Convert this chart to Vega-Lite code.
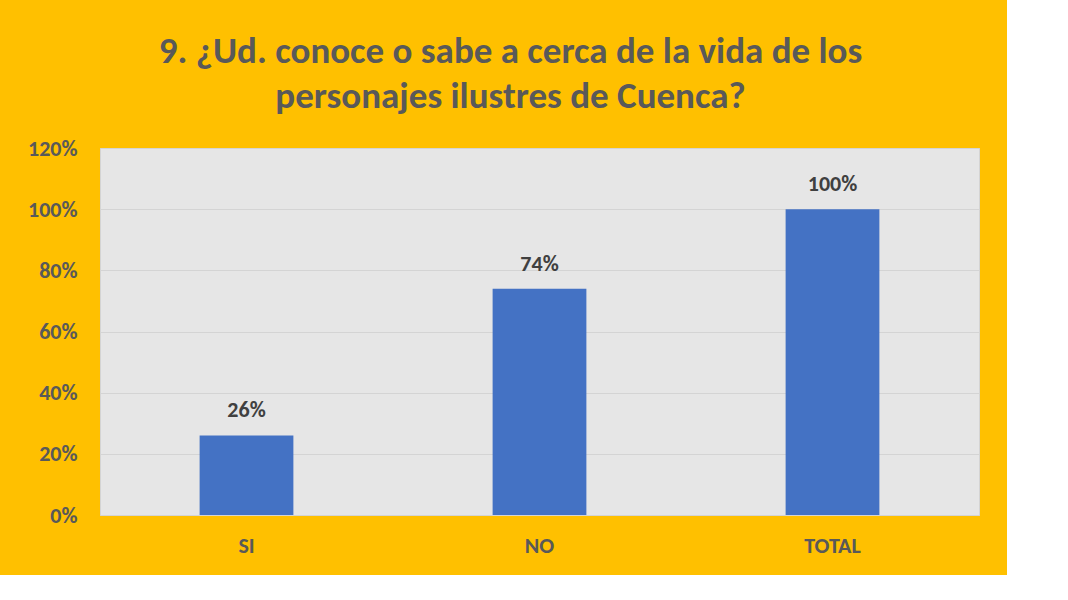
{
  "$schema": "https://vega.github.io/schema/vega-lite/v6.json",
  "autosize": {"type": "none"},
  "width": 879,
  "height": 367,
  "padding": {"left": 100, "top": 148, "right": 28, "bottom": 60},
  "background": "#FFC000",
  "title": {
    "text": ["9. ¿Ud. conoce o sabe a cerca de la vida de los", "personajes ilustres de Cuenca?"],
    "anchor": "middle",
    "frame": "group",
    "dx": -29,
    "offset": 21,
    "fontSize": 37,
    "lineHeight": 45,
    "font": "Carlito, Liberation Sans Narrow, Open Sans",
    "fontWeight": "bold",
    "color": "#595959"
  },
  "data": {
    "values": [
      {"categoria": "SI", "porcentaje": 0.26},
      {"categoria": "NO", "porcentaje": 0.74},
      {"categoria": "TOTAL", "porcentaje": 1.0}
    ]
  },
  "config": {
    "view": {"fill": "#E6E6E6", "stroke": "#D4D4D4"},
    "font": "Carlito, Liberation Sans Narrow, Open Sans"
  },
  "encoding": {
    "x": {
      "field": "categoria",
      "type": "nominal",
      "sort": ["SI", "NO", "TOTAL"],
      "scale": {"paddingInner": 0.68, "paddingOuter": 0.34},
      "axis": {
        "title": null,
        "labelAngle": 0,
        "domain": false,
        "ticks": false,
        "labelPadding": 20,
        "labelFontSize": 22,
        "labelFontWeight": "bold",
        "labelColor": "#595959",
        "labelFont": "Carlito, Liberation Sans Narrow, Open Sans"
      }
    },
    "y": {
      "field": "porcentaje",
      "type": "quantitative",
      "scale": {"domain": [0, 1.2]},
      "axis": {
        "title": null,
        "format": ".0%",
        "values": [0, 0.2, 0.4, 0.6, 0.8, 1.0, 1.2],
        "domain": false,
        "ticks": false,
        "labelPadding": 23,
        "labelFontSize": 22,
        "labelFontWeight": "bold",
        "labelColor": "#595959",
        "labelFont": "Carlito, Liberation Sans Narrow, Open Sans",
        "gridColor": "#D4D4D4",
        "gridWidth": 1
      }
    }
  },
  "layer": [
    {"mark": {"type": "bar", "color": "#4472C4"}},
    {
      "mark": {
        "type": "text",
        "baseline": "middle",
        "dy": -25,
        "fontSize": 22,
        "fontWeight": "bold",
        "color": "#404040",
        "font": "Carlito, Liberation Sans Narrow, Open Sans"
      },
      "encoding": {
        "text": {"field": "porcentaje", "type": "quantitative", "format": ".0%"}
      }
    }
  ]
}
